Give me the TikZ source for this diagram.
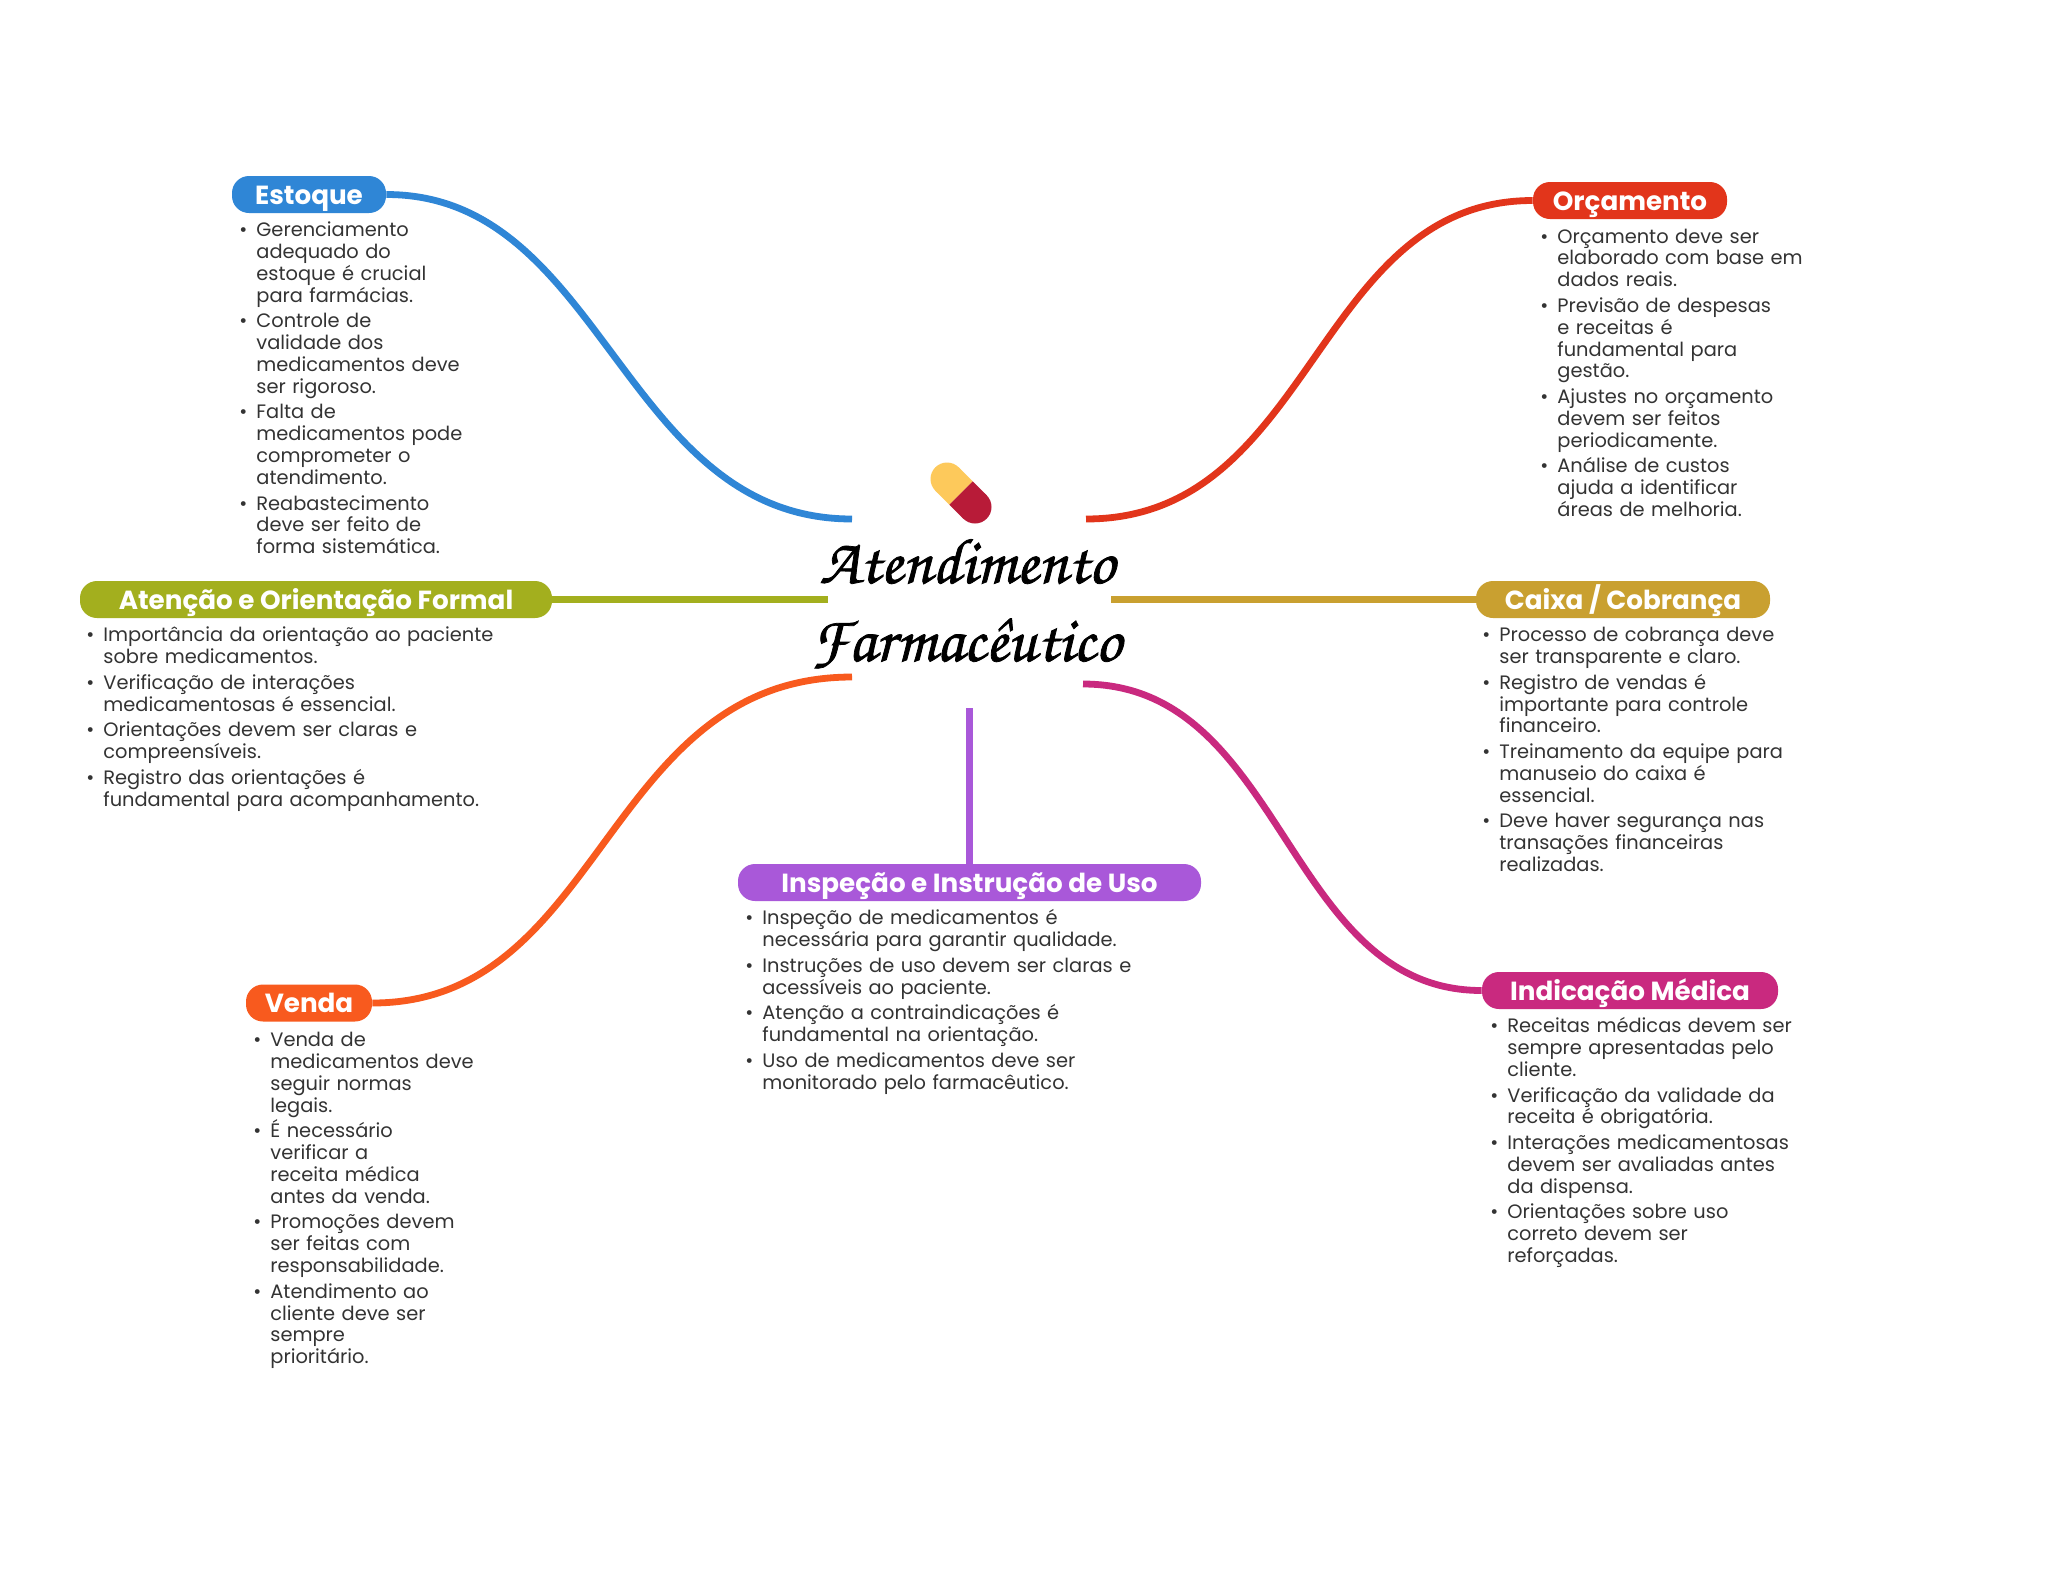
\documentclass[tikz,border=0pt]{standalone}
\usepackage{fontspec}
\setmainfont{Poppins}
\newfontfamily\titlehand[FakeBold=1.2]{TeX Gyre Chorus}
\definecolor{cblue}{HTML}{2F86D6}
\definecolor{cred}{HTML}{E2351B}
\definecolor{colive}{HTML}{A3AF1E}
\definecolor{cgold}{HTML}{C9A030}
\definecolor{corange}{HTML}{F85A1E}
\definecolor{cpurple}{HTML}{A958D9}
\definecolor{cmag}{HTML}{C9297F}
\definecolor{ctext}{HTML}{333333}
\definecolor{cyel}{HTML}{FDC95B}
\definecolor{ccap}{HTML}{B81B38}
\newcommand\itm[1]{\par\def\\{\par\vskip-\parskip\noindent\hspace*{8.5pt}\ignorespaces}\noindent\makebox[8.5pt][l]{\textbullet}\rule{0pt}{8pt}#1\par}
\tikzset{
  x=0.5pt,y=-0.5pt,
  pill/.style={rounded corners=8.5pt,inner sep=0pt,text=white,font=\fontsize{13.1}{13.1}\selectfont\bfseries,align=center,minimum height=18.5pt,text height=11.3pt,text depth=1.8pt},
  branch/.style={line width=3.4pt},
  body/.style={anchor=north west,inner sep=0pt,text=ctext,text width=260pt,
    font=\fontsize{9.7}{10.89}\selectfont,execute at begin node={\raggedright\lineskiplimit=-10pt\setlength{\parskip}{2pt}\setlength{\parindent}{0pt}}},
  title/.style={inner sep=0pt,anchor=base,font=\titlehand\fontsize{32.3}{32.3}\selectfont}
}
\begin{document}
\begin{tikzpicture}
\useasboundingbox[fill=white] (0,0) rectangle (2048,1569);
% capsule
\fill[cyel] (947,479) circle[radius=8.25pt];
\draw[cyel,line width=16.5pt] (947,479) -- (961,493);
\fill[ccap] (975,507) circle[radius=8.25pt];
\draw[ccap,line width=16.5pt] (975,507) -- (961,493);
% title
\node[title] (titleA) at (967,583) {Atendimento};
\node[title] (titleB) at (966,661) {Farmacêutico};
% pills
\node[pill,fill=cblue,minimum width=77pt] (estoque) at (309,194.5) {Estoque};
\node[pill,fill=cred,minimum width=97pt] (orcamento) at (1630,200.5) {Orçamento};
\node[pill,fill=colive,minimum width=236pt] (atencao) at (316,599.5) {Atenção e Orientação Formal};
\node[pill,fill=cgold,minimum width=147pt] (caixa) at (1623,599.5) {Caixa / Cobrança};
\node[pill,fill=corange,minimum width=63pt] (venda) at (309,1003) {Venda};
\node[pill,fill=cpurple,minimum width=231.5pt] (inspecao) at (969.5,882.5) {Inspeção e Instrução de Uso};
\node[pill,fill=cmag,minimum width=148pt] (indicacao) at (1630,990.5) {Indicação Médica};
% connector ends near centre
\coordinate (cBlue) at (852,519);
\coordinate (cRed) at (1086,519);
\coordinate (cOlive) at (828,599.5);
\coordinate (cGold) at (1111,599.5);
\coordinate (cOrange) at (852,677);
\coordinate (cMag) at (1083,684);
\coordinate (cPurple) at (969.5,708);
% connectors
\draw[branch,cblue] (estoque.east) .. controls (604,194.5) and (622,519) .. (cBlue);
\draw[branch,cred] (orcamento.west) .. controls (1314,200.5) and (1314,519) .. (cRed);
\draw[branch,colive] (atencao.east) -- (cOlive);
\draw[branch,cgold] (caixa.west) -- (cGold);
\draw[branch,corange] (venda.east) .. controls (604,1003) and (604,677) .. (cOrange);
\draw[branch,cpurple] (cPurple) -- (inspecao.north);
\draw[branch,cmag] (indicacao.west) .. controls (1285,990.5) and (1285,684) .. (cMag);
% texts
\node[body] (tEstoque) at (239,210.5) {%
\itm{Gerenciamento\\adequado do\\estoque é crucial\\para farmácias.}
\itm{Controle de\\validade dos\\medicamentos deve\\ser rigoroso.}
\itm{Falta de\\medicamentos pode\\comprometer o\\atendimento.}
\itm{Reabastecimento\\deve ser feito de\\forma sistemática.}};
\node[body] (tOrcamento) at (1540,217) {%
\itm{Orçamento deve ser\\elaborado com base em\\dados reais.}
\itm{Previsão de despesas\\e receitas é\\fundamental para\\gestão.}
\itm{Ajustes no orçamento\\devem ser feitos\\periodicamente.}
\itm{Análise de custos\\ajuda a identificar\\áreas de melhoria.}};
\node[body] (tAtencao) at (86,615.5) {%
\itm{Importância da orientação ao paciente\\sobre medicamentos.}
\itm{Verificação de interações\\medicamentosas é essencial.}
\itm{Orientações devem ser claras e\\compreensíveis.}
\itm{Registro das orientações é\\fundamental para acompanhamento.}};
\node[body] (tCaixa) at (1482,615.5) {%
\itm{Processo de cobrança deve\\ser transparente e claro.}
\itm{Registro de vendas é\\importante para controle\\financeiro.}
\itm{Treinamento da equipe para\\manuseio do caixa é\\essencial.}
\itm{Deve haver segurança nas\\transações financeiras\\realizadas.}};
\node[body] (tVenda) at (253,1020.5) {%
\itm{Venda de\\medicamentos deve\\seguir normas\\legais.}
\itm{É necessário\\verificar a\\receita médica\\antes da venda.}
\itm{Promoções devem\\ser feitas com\\responsabilidade.}
\itm{Atendimento ao\\cliente deve ser\\sempre\\prioritário.}};
\node[body] (tInspecao) at (745,898.5) {%
\itm{Inspeção de medicamentos é\\necessária para garantir qualidade.}
\itm{Instruções de uso devem ser claras e\\acessíveis ao paciente.}
\itm{Atenção a contraindicações é\\fundamental na orientação.}
\itm{Uso de medicamentos deve ser\\monitorado pelo farmacêutico.}};
\node[body] (tIndicacao) at (1490,1006.5) {%
\itm{Receitas médicas devem ser\\sempre apresentadas pelo\\cliente.}
\itm{Verificação da validade da\\receita é obrigatória.}
\itm{Interações medicamentosas\\devem ser avaliadas antes\\da dispensa.}
\itm{Orientações sobre uso\\correto devem ser\\reforçadas.}};
\end{tikzpicture}
\end{document}
